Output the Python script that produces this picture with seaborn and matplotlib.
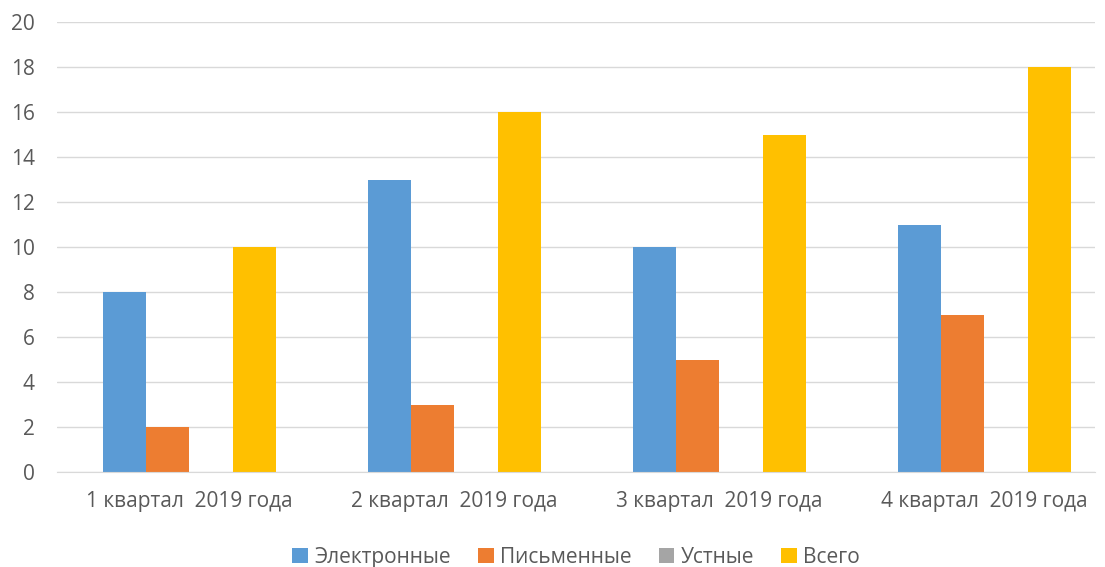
import pandas as pd
import matplotlib
matplotlib.use('Agg')
import matplotlib.pyplot as plt
import seaborn as sns

# chart data
categories = ['1 квартал  2019 года', '2 квартал  2019 года',
              '3 квартал  2019 года', '4 квартал  2019 года']
series = ['Электронные', 'Письменные', 'Устные', 'Всего']
electronic = [8, 13, 10, 11]
written = [2, 3, 5, 7]
oral = [0, 0, 0, 0]
total = [10, 16, 15, 18]
colors = ['#5B9BD5', '#ED7D31', '#A5A5A5', '#FFC000']
yticks = list(range(0, 21, 2))

rows = []
for name, vals in zip(series, [electronic, written, oral, total]):
    for cat, v in zip(categories, vals):
        rows.append({'cat': cat, 'series': name, 'value': v})
df = pd.DataFrame(rows)

sns.set_style('white')
plt.rcParams['font.family'] = ['Open Sans', 'DejaVu Sans']

fig = plt.figure(figsize=(11.05, 5.67), dpi=100)
ax = fig.add_axes([57 / 1105, 1 - 472 / 567, (1095 - 57) / 1105, (472 - 22) / 567])

sns.barplot(data=df, x='cat', y='value', hue='series', hue_order=series,
            palette=colors, width=0.65, gap=0, saturation=1, ax=ax,
            edgecolor='none', linewidth=0, legend=True)

ax.set_xlim(-0.5, 3.417)
ax.set_ylim(0, 20)
ax.set_yticks(yticks)
ax.yaxis.grid(True, color='#D9D9D9', linewidth=1)
ax.set_axisbelow(True)
for s in ['top', 'right', 'left']:
    ax.spines[s].set_visible(False)
ax.spines['bottom'].set_color('#D9D9D9')
ax.tick_params(axis='both', length=0, labelsize=15, labelcolor='#595959')
ax.tick_params(axis='x', pad=14)
ax.tick_params(axis='y', pad=16)
ax.set_xlabel('')
ax.set_ylabel('')

handles, labels = ax.get_legend_handles_labels()
ax.legend(handles, labels, loc='center', bbox_to_anchor=(0.5, -0.19),
          ncol=4, frameon=False, fontsize=15, handlelength=0.75, handleheight=0.75,
          handletextpad=0.3, columnspacing=1.3, labelcolor='#595959')

fig.savefig('out.png', dpi=100)
